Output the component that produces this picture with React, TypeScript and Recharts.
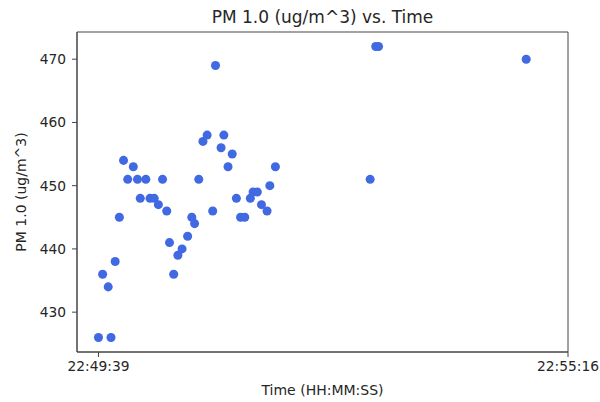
import React from 'react';
import { ScatterChart, Scatter, XAxis, YAxis, ZAxis, ReferenceArea } from 'recharts';

// seconds since 22:49:39
const secondsSinceStart = [
  0, 3, 7, 9, 12, 15, 18, 21, 25, 28, 30, 34, 37, 40, 43, 46, 49, 51, 54, 57,
  60, 64, 67, 69, 72, 75, 78, 82, 84, 88, 90, 93, 96, 99, 102, 105, 109, 111,
  114, 117, 121, 123, 127, 195, 199, 201, 307,
];
const pm10Values = [
  426, 436, 434, 426, 438, 445, 454, 451, 453, 451, 448, 451, 448, 448, 447, 451, 446, 441, 436, 439,
  440, 442, 445, 444, 451, 457, 458, 446, 469, 456, 458, 453, 455, 448, 445, 445, 448, 449,
  449, 447, 446, 450, 453, 451, 472, 472, 470,
];
const xTickSeconds = [0, 337];
const xTickLabels = ['22:49:39', '22:55:16'];
const yTicks = [430, 440, 450, 460, 470];
const xDomain = [-15.4, 337];
const yDomain = [423.7, 474.3];

const data = secondsSinceStart.map((t, i) => ({ t, pm: pm10Values[i] }));

const FONT = '"DejaVu Sans", sans-serif';
const TEXT = '#262626';
const AXIS = '#444';

const YLabel = (props: any) => {
  const vb = props.viewBox || {};
  const cx = vb.x + vb.width - 56;
  const cy = vb.y + vb.height / 2;
  return (
    <text
      x={cx}
      y={cy}
      transform={`rotate(-90 ${cx} ${cy})`}
      textAnchor="middle"
      dominantBaseline="central"
      fontFamily={FONT}
      fontSize={14}
      fill={TEXT}
    >
      PM 1.0 (ug/m^3)
    </text>
  );
};

export default function App() {
  return (
    <div style={{ position: 'absolute', left: 0, top: 0, width: 600, height: 402, background: '#fff' }}>
      <div
        style={{
          position: 'absolute',
          left: 77,
          width: 491,
          top: 7,
          textAlign: 'center',
          fontFamily: FONT,
          fontSize: 17,
          lineHeight: '20px',
          color: TEXT,
          whiteSpace: 'nowrap',
        }}
      >
        PM 1.0 (ug/m^3) vs. Time
      </div>
      <ScatterChart width={600} height={402} margin={{ top: 32, right: 32, bottom: 0, left: 27 }}>
        <XAxis
          dataKey="t"
          type="number"
          domain={xDomain}
          ticks={xTickSeconds}
          tickFormatter={(v: number) => xTickLabels[xTickSeconds.indexOf(v)] ?? ''}
          allowDataOverflow
          height={50}
          tickSize={5}
          tickMargin={4}
          stroke={AXIS}
          tick={{ fill: TEXT, fontSize: 13.8, fontFamily: FONT }}
          label={{
            value: 'Time (HH:MM:SS)',
            position: 'insideBottom',
            offset: 7,
            fill: TEXT,
            fontSize: 14,
            fontFamily: FONT,
          }}
        />
        <YAxis
          dataKey="pm"
          type="number"
          domain={yDomain}
          ticks={yTicks}
          allowDataOverflow
          width={50}
          tickSize={5}
          tickMargin={6}
          stroke={AXIS}
          tick={{ fill: TEXT, fontSize: 13.8, fontFamily: FONT }}
          label={<YLabel />}
        />
        <ZAxis range={[80, 80]} />
        <ReferenceArea
          x1={xDomain[0]}
          x2={xDomain[1]}
          y1={yDomain[0]}
          y2={yDomain[1]}
          fill="none"
          fillOpacity={0}
          stroke={AXIS}
          strokeWidth={1}
          ifOverflow="visible"
        />
        <Scatter
          data={data}
          fill="#4169E1"
          isAnimationActive={false}
          shape="circle"
        />
      </ScatterChart>
    </div>
  );
}
